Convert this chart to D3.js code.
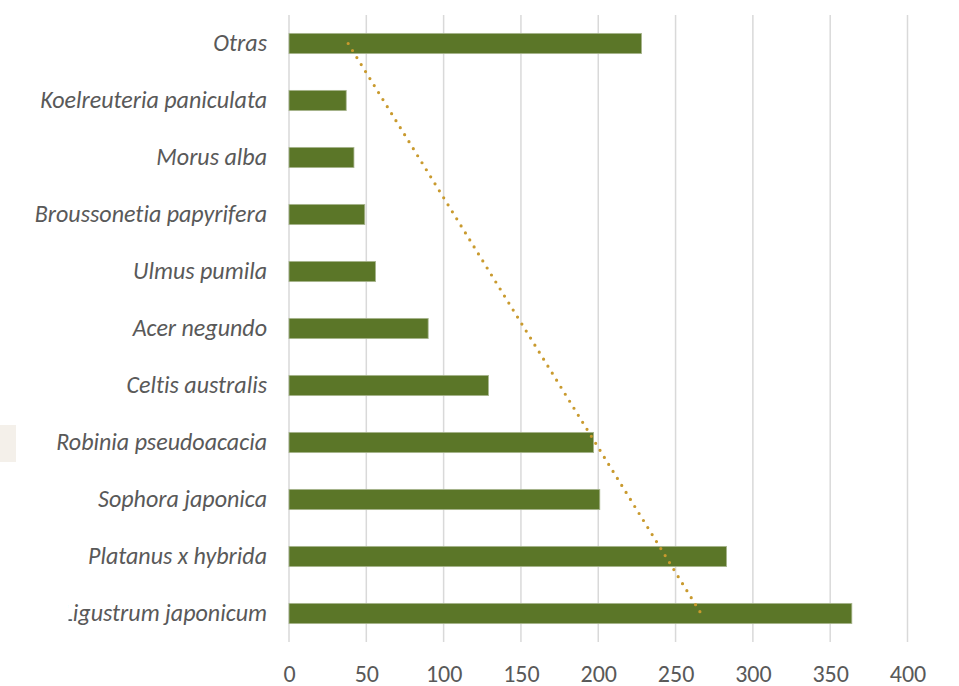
<!DOCTYPE html>
<html>
<head>
<meta charset="utf-8">
<script src="https://cdn.jsdelivr.net/npm/d3@7"></script>
<style>
  html, body { margin: 0; padding: 0; background: #ffffff; }
  svg { display: block; }
  text { font-variant-ligatures: none; }
</style>
</head>
<body>
<svg id="chart" width="959" height="686"></svg>
<script>
// Species, ordered top to bottom as drawn
const categories = [
  "Otras",
  "Koelreuteria paniculata",
  "Morus alba",
  "Broussonetia papyrifera",
  "Ulmus pumila",
  "Acer negundo",
  "Celtis australis",
  "Robinia pseudoacacia",
  "Sophora japonica",
  "Platanus x hybrida",
  "Ligustrum japonicum"
];
const counts = [228, 37, 42, 49, 56, 90, 129, 197, 201, 283, 364];
const xTicks = [0, 50, 100, 150, 200, 250, 300, 350, 400];

const svg = d3.select("#chart");
const plotLeft = 289, plotRight = 907.5, plotTop = 15, plotBottom = 642;

const x = d3.scaleLinear().domain([0, 400]).range([plotLeft, plotRight]);
const y = d3.scaleBand().domain(categories).range([plotTop, plotBottom])
  .paddingInner(0.645).paddingOuter(0.3225);

// the bottom label is trimmed at its left end
svg.append("defs").append("clipPath").attr("id", "labelClip")
  .append("rect").attr("x", 68.5).attr("y", 0).attr("width", 959).attr("height", 686);

// beige swatch on the left edge
svg.append("rect").attr("x", 0).attr("y", 425).attr("width", 16).attr("height", 37)
  .attr("fill", "#f4f0ea");

// vertical gridlines
svg.append("g").selectAll("line").data(xTicks).join("line")
  .attr("x1", d => x(d)).attr("x2", d => x(d))
  .attr("y1", plotTop).attr("y2", plotBottom)
  .attr("stroke", "#d9d9d9").attr("stroke-width", 1.5);

// bars
svg.append("g").selectAll("rect").data(categories).join("rect")
  .attr("x", x(0))
  .attr("y", d => y(d))
  .attr("width", (d, i) => x(counts[i]) - x(0))
  .attr("height", y.bandwidth())
  .attr("fill", "#5b7628")
  .attr("stroke", "#a9b68f").attr("stroke-width", 0.8);

// linear trendline over category position (1 = bottom category)
const n = categories.length;
const pts = categories.map((c, i) => ({ c, k: n - i, v: counts[i] }));
const mk = d3.mean(pts, p => p.k), mv = d3.mean(pts, p => p.v);
const slope = d3.sum(pts, p => (p.k - mk) * (p.v - mv)) / d3.sum(pts, p => (p.k - mk) ** 2);
const intercept = mv - slope * mk;
const first = pts[0], last = pts[n - 1];
svg.append("line")
  .attr("x1", x(intercept + slope * first.k)).attr("y1", y(first.c) + y.bandwidth() / 2)
  .attr("x2", x(intercept + slope * last.k)).attr("y2", y(last.c) + y.bandwidth() / 2)
  .attr("stroke", "#c99a2e").attr("stroke-width", 3.2)
  .attr("stroke-linecap", "round").attr("stroke-dasharray", "0 8.25");

// category labels
const font = "Carlito, Calibri, 'Open Sans', sans-serif";
svg.append("g")
  .selectAll("text").data(categories).join("text")
  .attr("x", 267)
  .attr("y", d => y(d) + y.bandwidth() / 2)
  .attr("dy", "0.32em")
  .attr("text-anchor", "end")
  .attr("font-family", font).attr("font-style", "italic")
  .attr("font-size", 24).attr("fill", "#595959")
  .attr("clip-path", (d, i) => i === categories.length - 1 ? "url(#labelClip)" : null)
  .text(d => d);

// x tick labels
const xAxis = d3.axisBottom(x).tickValues(xTicks).tickSize(0).tickPadding(0);
const ax = svg.append("g").call(xAxis);
ax.select(".domain").remove();
ax.selectAll("text")
  .attr("y", 682).attr("dy", 0)
  .attr("font-family", font).attr("font-size", 24).attr("fill", "#595959");
</script>
</body>
</html>
